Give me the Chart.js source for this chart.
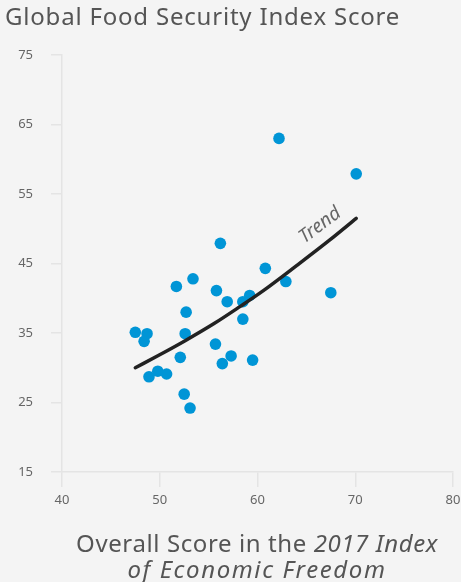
<!DOCTYPE html>
<html lang="en">
<head>
  <meta charset="UTF-8" />
  <title>Food Security vs Economic Freedom</title>
  <style>
    body { margin: 0; padding: 0; background: #f4f4f4; }
    #wrap { width: 461px; height: 582px; }
  </style>
</head>
<body>
  <div id="wrap"><canvas id="chart"></canvas></div>

  <script src="https://cdn.jsdelivr.net/npm/chart.js"></script>
  <script>
    // --- Data ---
    const freedomScores = [62.2, 56.2, 60.8, 62.9, 51.7, 53.4, 55.8, 56.9, 59.2, 58.5,
                           58.5, 52.7, 47.5, 48.7, 48.4, 52.6, 55.7, 52.1, 57.3, 56.4,
                           59.5, 48.9, 49.8, 50.7, 52.5, 53.1, 70.1, 67.5];
    const foodScores    = [63.0, 47.9, 44.3, 42.4, 41.7, 42.8, 41.1, 39.5, 40.4, 39.5,
                           37.0, 38.0, 35.1, 34.9, 33.8, 34.9, 33.4, 31.5, 31.7, 30.6,
                           31.1, 28.7, 29.5, 29.1, 26.2, 24.2, 57.9, 40.8];

    // trend curve
    const trendX = [47.5, 49.9, 52.6, 55.6, 58.2, 60.6, 64.0, 67.4, 70.1];
    const trendY = [30.0, 31.8, 33.9, 36.4, 38.8, 41.1, 44.7, 48.4, 51.5];

    const xTicks = [40, 50, 60, 70, 80];
    const yTicks = [15, 25, 35, 45, 55, 65, 75];

    const titleText = 'Global Food Security Index Score';
    const trendLabel = 'Trend';

    const FONT = '"Noto Sans", "DejaVu Sans", sans-serif';

    // --- Plugins for background and free text ---
    const bgPlugin = {
      id: 'bg',
      beforeDraw(chart) {
        const ctx = chart.ctx;
        ctx.save();
        ctx.fillStyle = '#f4f4f4';
        ctx.fillRect(0, 0, chart.width, chart.height);
        ctx.restore();
      }
    };

    const textPlugin = {
      id: 'texts',
      afterDraw(chart) {
        const ctx = chart.ctx;
        const xs = chart.scales.x, ys = chart.scales.y;
        ctx.save();

        // title
        ctx.fillStyle = '#555';
        ctx.textBaseline = 'alphabetic';
        ctx.textAlign = 'left';
        ctx.font = '24px ' + FONT;
        ctx.letterSpacing = '0.8px';
        ctx.fillText(titleText, 5, 25);

        // x axis title, mixed upright / italic
        const cx = 257;
        const parts = [['Overall Score in the ', ''], ['2017 Index', 'italic ']];
        ctx.letterSpacing = '0.6px';
        let total = 0;
        parts.forEach(p => { ctx.font = p[1] + '24px ' + FONT; total += ctx.measureText(p[0]).width; });
        let x = cx - total / 2;
        parts.forEach(p => {
          ctx.font = p[1] + '24px ' + FONT;
          ctx.fillText(p[0], x, 552);
          x += ctx.measureText(p[0]).width;
        });
        ctx.font = 'italic 24px ' + FONT;
        ctx.letterSpacing = '1.6px';
        ctx.textAlign = 'center';
        ctx.fillText('of Economic Freedom', cx, 578);

        // trend label
        ctx.letterSpacing = '0px';
        ctx.translate(xs.getPixelForValue(66.4), ys.getPixelForValue(50.5));
        ctx.rotate(-37 * Math.PI / 180);
        ctx.font = 'italic 19px ' + FONT;
        ctx.fillStyle = '#666';
        ctx.textBaseline = 'middle';
        ctx.fillText(trendLabel, 0, 0);

        ctx.restore();
      }
    };

    const points = freedomScores.map((v, i) => ({ x: v, y: foodScores[i] }));
    const trend = trendX.map((v, i) => ({ x: v, y: trendY[i] }));

    new Chart(document.getElementById('chart'), {
      type: 'scatter',
      data: {
        datasets: [
          {
            label: 'Countries',
            data: points,
            backgroundColor: '#0095d6',
            borderWidth: 0,
            pointRadius: 5.8,
            order: 2
          },
          {
            type: 'line',
            label: 'Trend',
            data: trend,
            borderColor: '#222',
            borderWidth: 3.5,
            borderCapStyle: 'round',
            pointRadius: 0,
            cubicInterpolationMode: 'monotone',
            fill: false,
            order: 1
          }
        ]
      },
      options: {
        responsive: true,
        maintainAspectRatio: false,
        animation: false,
        layout: { padding: { left: 0, right: 8, top: 55, bottom: 0 } },
        plugins: {
          legend: { display: false },
          tooltip: { enabled: false }
        },
        scales: {
          x: {
            type: 'linear',
            min: 40, max: 80,
            afterFit(scale) { scale.height = 110; scale.paddingRight = 0; scale.paddingLeft = 0; },
            afterBuildTicks(scale) { scale.ticks = xTicks.map(v => ({ value: v })); },
            grid: { drawOnChartArea: false, tickLength: 15, color: '#e4e4e4', lineWidth: 1.5 },
            border: { color: '#e4e4e4', width: 1.5 },
            ticks: { padding: 5, color: '#666', font: { family: FONT, size: 13 } }
          },
          y: {
            type: 'linear',
            min: 15, max: 75,
            afterFit(scale) { scale.width = 62; },
            afterBuildTicks(scale) { scale.ticks = yTicks.map(v => ({ value: v })); },
            grid: { drawOnChartArea: false, tickLength: 11, color: '#e4e4e4', lineWidth: 1.5 },
            border: { color: '#e4e4e4', width: 1.5 },
            ticks: { padding: 18, color: '#666', font: { family: FONT, size: 13 } }
          }
        }
      },
      plugins: [bgPlugin, textPlugin]
    });
  </script>
</body>
</html>
